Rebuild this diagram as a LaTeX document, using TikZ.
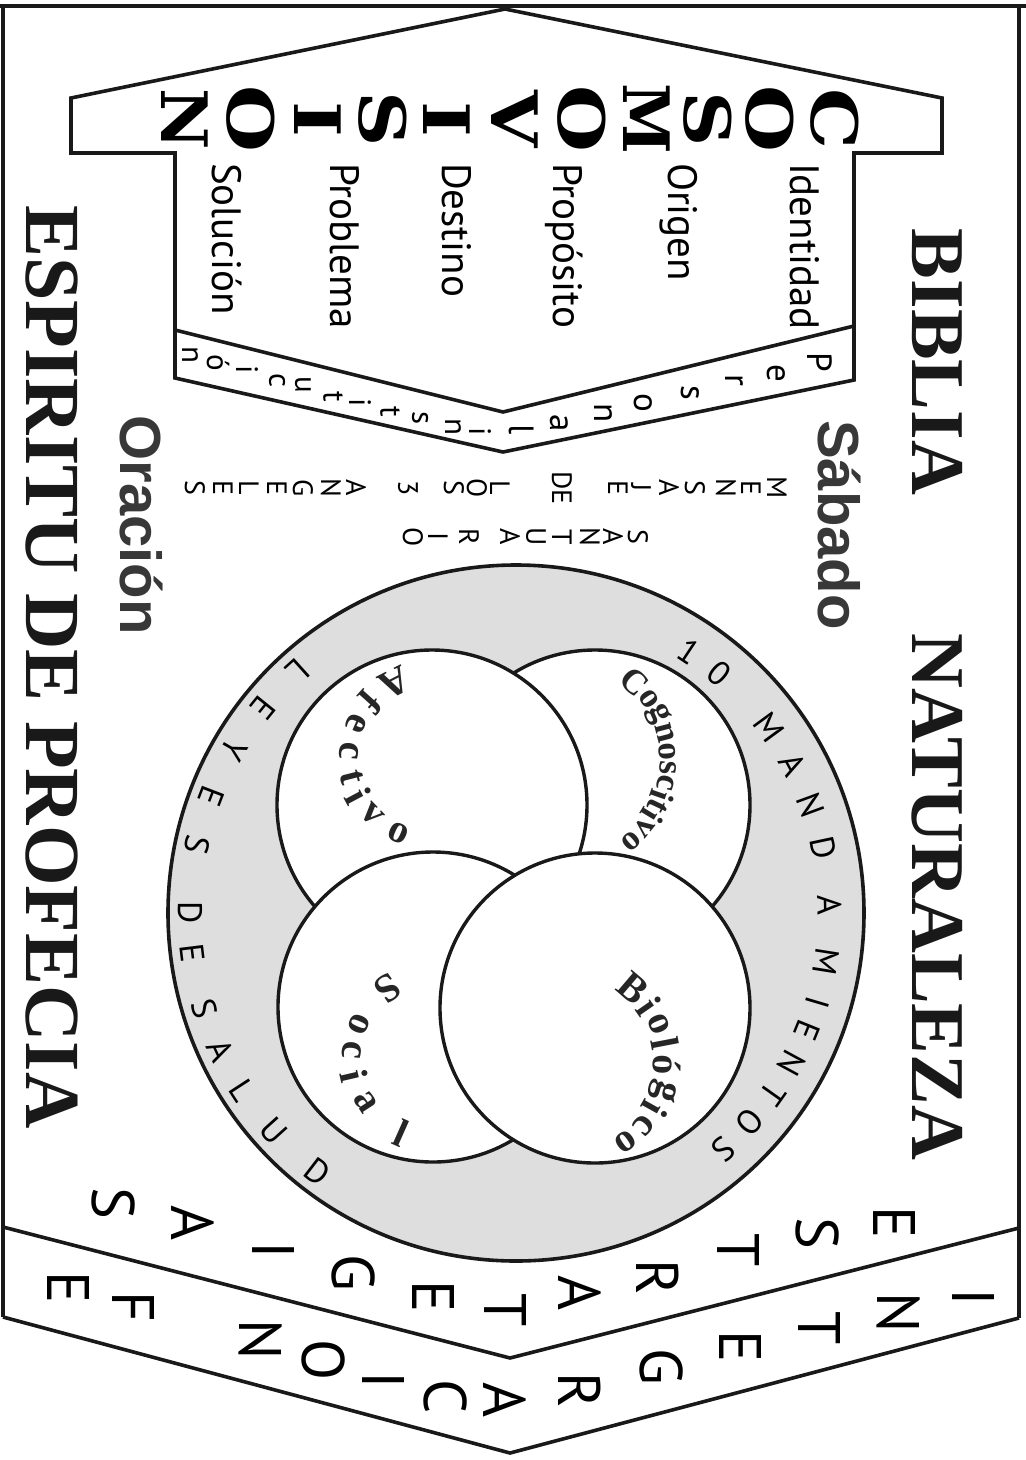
\documentclass[tikz,border=0pt]{standalone}
\usepackage{fontspec}
\setmainfont{Liberation Serif}
\newfontfamily\thinsans{PT Sans}
\newfontfamily\boldsans{Liberation Sans}
\newfontfamily\heavy{DejaVu Serif}
\usetikzlibrary{calc}
\begin{document}
\begin{tikzpicture}[x=1pt,y=-1pt,
  frameline/.style={line width=3.6pt, line join=miter, black!90},
  vt/.style={rotate=-90, inner sep=0pt, outer sep=0pt},
  bigtitle/.style={vt, font=\bfseries\fontsize{76}{76}\selectfont, text=black!90},
  cosmo/.style={vt, xscale=1.2, font=\heavy\bfseries\fontsize{64}{64}\selectfont, text=black},
  worditem/.style={vt, anchor=base west, font=\thinsans\fontsize{41}{41}\selectfont},
  bandletter/.style={vt, font=\thinsans\fontsize{35}{35}\selectfont},
  smallletter/.style={vt, font=\thinsans\fontsize{28}{28}\selectfont},
  graybold/.style={vt, font=\boldsans\bfseries\fontsize{58}{58}\selectfont, text=black!78},
  chevletter/.style={vt, font=\thinsans\fontsize{60}{60}\selectfont},
  ringletter/.style={inner sep=0pt, font=\thinsans\fontsize{34}{34}\selectfont},
  circword/.style={inner sep=0pt, font=\bfseries\fontsize{40}{40}\selectfont, text=black!85},
  ringdisk/.style={circle, draw=black!90, line width=3.6pt, fill=black!13, inner sep=0pt},
  subdisk/.style={circle, draw=black!90, line width=3.4pt, fill=white, inner sep=0pt, minimum size=310pt}
]
\useasboundingbox (0,0) rectangle (1026,1460);
\fill[white] (0,0) rectangle (1026,1460);

% ---------- outer frame ----------
\coordinate (tl) at (0,6);
\coordinate (tr) at (1026,6);
\coordinate (lt) at (3,6);
\coordinate (lb) at (3,1317);
\coordinate (rt) at (1019,6);
\coordinate (rb) at (1019,1318);
\coordinate (c1l) at (3,1227);
\coordinate (c1m) at (510,1358);
\coordinate (c1r) at (1019,1228);
\coordinate (c2l) at (3,1317);
\coordinate (c2m) at (510,1453);
\coordinate (c2r) at (1019,1318);
\draw[frameline] (tl) -- (tr);
\draw[frameline] (lt) -- (lb);
\draw[frameline] (rt) -- (rb);
\draw[frameline] (c1l) -- (c1m) -- (c1r);
\draw[frameline] (c2l) -- (c2m) -- (c2r);

% ---------- house ----------
\coordinate (apex) at (505,9);
\coordinate (el1) at (71,98);
\coordinate (el2) at (71,153);
\coordinate (wl1) at (175,153);
\coordinate (wl2) at (175,378);
\coordinate (vb) at (503,452);
\coordinate (wr2) at (854,380);
\coordinate (wr1) at (854,153);
\coordinate (er2) at (942,153);
\coordinate (er1) at (942,98);
\coordinate (bl) at (175,330);
\coordinate (bv) at (503,412);
\coordinate (br) at (854,326);
\draw[frameline] (apex) -- (el1) -- (el2) -- (wl1) -- (wl2) -- (vb) -- (wr2) -- (wr1) -- (er2) -- (er1) -- cycle;
\draw[frameline] (bl) -- (bv) -- (br);

% COSMOVISION
\foreach \c/\x/\s [count=\i] in {C/835/1.2,O/770/1.2,S/708/1.2,M/647/1.0,O/582/1.2,V/515/1.15,I/447/1.2,S/383/1.2,I/318/1.2,O/251/1.2,N/185/1.05}
  \node[cosmo, xscale=\s/1.2] (cos\i) at (\x,119) {\c};

% words
\node[worditem] (w1) at (790,163) {Identidad};
\node[worditem] (w2) at (668,163) {Origen};
\node[worditem] (w3) at (553,163) {Propósito};
\node[worditem] (w4) at (442,163) {Destino};
\node[worditem] (w5) at (330,163) {Problema};
\node[worditem] (w6) at (212,163) {Solución};

% band letters
\foreach \c/\x/\y [count=\i] in {P/820/362,e/776/373,r/734/380,s/690/393,o/643/403,n/603/413,a/559/423,l/522/430}
  \node[bandletter] (per\i) at (\x,\y) {\c};
\foreach \c/\x/\y [count=\i] in {i/480/432,n/453/427,s/420/418,t/390/412,i/360/403,t/333/397,u/303/385,c/277/380,i/247/370,ó/218/363,n/190/355}
  \node[bandletter, font=\thinsans\fontsize{31}{31}\selectfont] (ins\i) at (\x,\y) {\c};

% big titles
\node[bigtitle] (biblia) at (937,362) {BIBLIA};
\node[bigtitle] (natur) at (937,897) {NATURALEZA};
\node[bigtitle, font=\bfseries\fontsize{78}{78}\selectfont] (espir) at (52,667) {ESPIRITU DE PROFECIA};

\node[graybold] (sabado) at (839,525) {Sábado};
\node[graybold] (oracion) at (141,525) {Oración};

% Mensaje de los 3 angeles
\foreach \c/\x [count=\i] in {M/777,E/751,N/726,S/695,A/669,J/641,E/618,DE/562,L/500,O/477,S/454,3/408,A/356,N/331,G/303,E/277,L/249,E/223,S/195}
  \node[smallletter] (men\i) at (\x,488) {\c};
\foreach \c/\x [count=\i] in {S/638,A/613,N/590,T/562,U/536,A/510,R/469,I/438,O/413}
  \node[smallletter] (san\i) at (\x,537) {\c};

% ---------- circles ----------
\node[ringdisk, minimum size=696pt] (ring) at (516,913) {};
\node[subdisk] (cogc) at (595,805) {};
\node[subdisk] (afec) at (432,805) {};
\node[subdisk] (soc) at (433,1007) {};
\node[subdisk] (bio) at (595,1008) {};

\coordinate (rc) at (516,913);
\foreach \c/\a [count=\i] in {1/-56.5,0/-49.6,M/-36.2,A/-28.3,N/-20.1,D/-12,A/-1.5,M/9,I/16.5,E/22,N/28.5,T/35.3,O/41.8,S/48.7}
  \node[ringletter, rotate={-(\a)-90}] (man\i) at ($(rc)+(\a:314)$) {\c};
\foreach \c/\a [count=\i] in {L/228,E/219,Y/210,E/201,S/192,D/180,E/173,S/163,A/155,L/147,U/138,D/127.5}
  \node[ringletter, rotate={-(\a)+90}] (ley\i) at ($(rc)+(\a:326)$) {\c};

\coordinate (cogt) at (560,760);
\foreach \c/\a [count=\i] in {C/-46.5,o/-34.6,g/-24.9,n/-14.7,o/-4.4,s/4.2,c/12.3,i/19.3,t/25.3,i/31.2,v/38.8,o/48.5}
  \node[circword, font=\bfseries\fontsize{35}{35}\selectfont, rotate={-(\a)-90}] (cog\i) at ($(cogt)+(\a:108)$) {\c};
\coordinate (biot) at (570,1062);
\foreach \c/\a [count=\i] in {B/-49.6,i/-34.9,o/-22.9,l/-10.8,ó/1.4,g/17,i/29.1,c/40.3,o/55}
  \node[circword, rotate={-(\a)-90}] (bio\i) at ($(biot)+(\a:97)$) {\c};
\coordinate (afet) at (432,757);
\foreach \c/\a [count=\i] in {A/243,f/222,e/204,c/184,t/166,i/152,v/136,o/114}
  \node[circword, rotate={-(\a)+90}] (afe\i) at ($(afet)+(\a:83)$) {\c};
\coordinate (soct) at (435,1057);
\foreach \c/\a [count=\i] in {S/235.5,o/203,c/185,i/167,a/147,l/114}
  \node[circword, rotate={-(\a)+90}] (soc\i) at ($(soct)+(\a:83)$) {\c};

% ---------- chevron letters ----------
\foreach \c/\x/\y [count=\i] in {E/894/1223,S/817/1233,T/738/1250,R/658/1277,A/580/1293,T/505/1310,E/433/1297,G/353/1273,I/273/1250,A/193/1223,S/113/1203}
  \node[chevletter] (est\i) at (\x,\y) {\c};
\foreach \c/\x/\y [count=\i] in {I/973/1297,N/898/1313,T/819/1328,E/740/1347,G/661/1367,R/580/1390,A/505/1400,C/445/1397,I/383/1380,O/323/1360,N/260/1340,F/133/1307,E/68/1288}
  \node[chevletter] (int\i) at (\x,\y) {\c};
\end{tikzpicture}
\end{document}
